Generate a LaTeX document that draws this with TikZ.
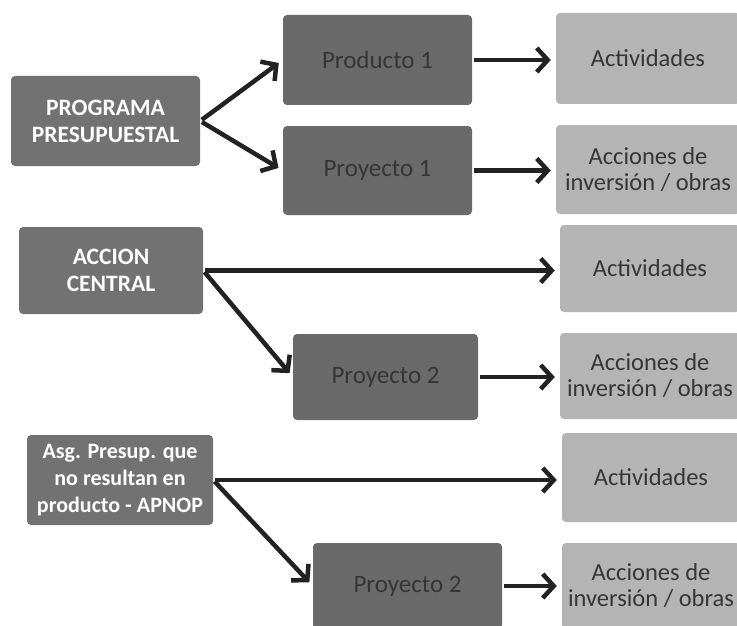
\documentclass[tikz,border=0pt]{standalone}
\usepackage{fontspec}
\setmainfont{Carlito}
\usetikzlibrary{arrows.meta}
\definecolor{leftgray}{HTML}{727272}
\definecolor{midgray}{HTML}{6A6A6A}
\definecolor{lightgray}{HTML}{B4B4B4}
\definecolor{darktext}{HTML}{363636}
\definecolor{arrowcol}{HTML}{222222}
\begin{document}
\begin{tikzpicture}[x=1pt,y=-1pt,
  box/.style={rectangle, rounded corners=4pt, inner sep=0pt, align=center,
    font=\fontsize{25}{26}\selectfont},
  leftbox/.style={box, fill=leftgray, text=white, font=\fontsize{23.5}{27}\selectfont\bfseries},
  midbox/.style={box, fill=midgray, text=darktext},
  rightbox/.style={box, fill=lightgray, text=darktext, font=\fontsize{24.5}{26}\selectfont},
  arr/.style={draw=arrowcol, line width=4.5pt,
    -{Straight Barb[length=11pt,width=24pt,line width=4.5pt]},
    shorten <=2pt, shorten >=5pt}
]
\useasboundingbox (0,0) rectangle (737,626);
\clip (0,0) rectangle (737,626);

% row 1
\node[leftbox, minimum width=189pt, minimum height=90pt] (prog) at (105.5,121) {PROGRAMA\\PRESUPUESTAL};
\node[midbox, minimum width=189pt, minimum height=90pt] (prod) at (377.5,60) {Producto 1};
\node[midbox, minimum width=189pt, minimum height=89pt] (proj1) at (377.5,170.5) {Proyecto 1};
\node[rightbox, minimum width=184pt, minimum height=91pt] (act1) at (648,58.5) {Actividades};
\node[rightbox, minimum width=184pt, minimum height=89pt] (acc1) at (648,169.5) {Acciones de\\inversión / obras};

% row 2
\node[leftbox, minimum width=184pt, minimum height=87pt] (ac) at (111,270.5) {ACCION\\CENTRAL};
\node[rightbox, minimum width=180pt, minimum height=87pt] (act2) at (650,268.5) {Actividades};
\node[midbox, minimum width=185pt, minimum height=86pt] (p2) at (385.5,377) {Proyecto 2};
\node[rightbox, minimum width=180pt, minimum height=86pt] (acc2) at (650,376) {Acciones de\\inversión / obras};

% row 3
\node[leftbox, minimum width=186pt, minimum height=90pt, font=\fontsize{22}{27}\selectfont\bfseries] (asg) at (120,480) {Asg. Presup. que\\no resultan en\\producto - APNOP};
\node[rightbox, minimum width=178pt, minimum height=89pt] (act3) at (651,477.5) {Actividades};
\node[midbox, minimum width=189pt, minimum height=86pt] (p3) at (407.5,586) {Proyecto 2};
\node[rightbox, minimum width=178pt, minimum height=86pt] (acc3) at (651,586) {Acciones de\\inversión / obras};

% connectors
\draw[arr] (prog.east) -- (prod.west);
\draw[arr] (prog.east) -- (proj1.west);
\draw[arr] (prod.east) -- (prod.east -| act1.west);
\draw[arr] (proj1.east) -- (proj1.east -| acc1.west);

\draw[arr] (ac.east) -- (ac.east -| act2.west);
\draw[arr] (ac.east) -- (p2.west);
\draw[arr] (p2.east) -- (p2.east -| acc2.west);

\draw[arr] (asg.east) -- (asg.east -| act3.west);
\draw[arr] (asg.east) -- (p3.west);
\draw[arr] (p3.east) -- (p3.east -| acc3.west);
\end{tikzpicture}
\end{document}
